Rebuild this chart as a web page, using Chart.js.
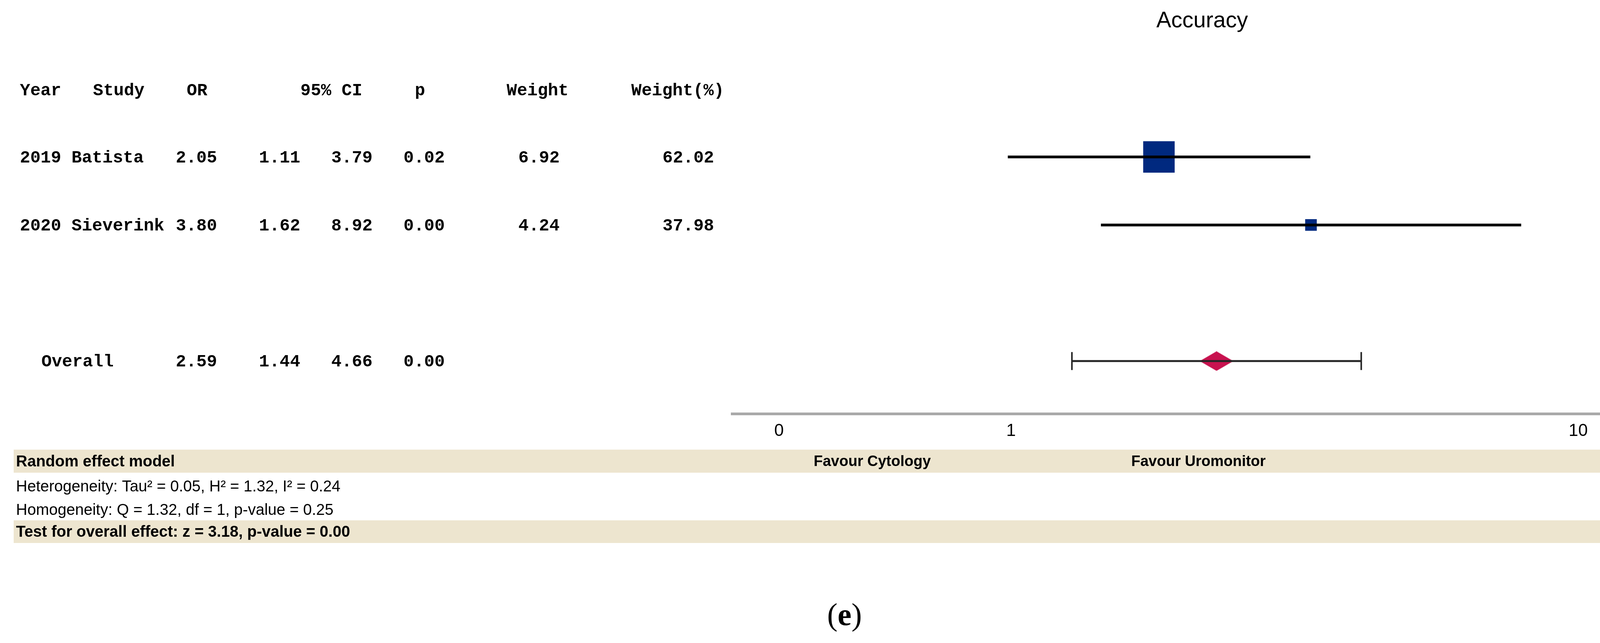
<!DOCTYPE html>
<html>
<head>
<meta charset="utf-8">
<title>Accuracy</title>
<script src="https://cdn.jsdelivr.net/npm/chart.js@4.4.1/dist/chart.umd.min.js"></script>
<style>
  html, body { margin: 0; padding: 0; background: #fff; }
  #wrap { width: 4338px; height: 1646px; }
</style>
</head>
<body>
<div id="wrap"><canvas id="forest" width="4338" height="1646"></canvas></div>
<script>
// study rows
const years = ['2019', '2020'];
const studies = ['Batista', 'Sieverink'];
const oddsRatios = [2.05, 3.80];
const ciLow = [1.11, 1.62];
const ciHigh = [3.79, 8.92];
const pValues = [0.02, 0.00];
const weights = [6.92, 4.24];
const weightPct = [62.02, 37.98];

// pooled estimate
const overallOR = 2.59;
const overallLow = 1.44;
const overallHigh = 4.66;
const overallP = 0.00;

// axis
const tickValues = [0.39, 1, 10];
const tickLabels = ['0', '1', '10'];

const headers = ['Year', 'Study', 'OR', '95% CI', 'p', 'Weight', 'Weight(%)'];
const favourLabels = ['Favour Cytology', 'Favour Uromonitor'];
const footerLines = [
    'Random effect model',
    'Heterogeneity: Tau\u00b2 = 0.05, H\u00b2 = 1.32, I\u00b2 = 0.24',
    'Homogeneity: Q = 1.32, df = 1, p-value = 0.25',
    'Test for overall effect: z = 3.18, p-value = 0.00'
];

(function () {
    const overallRow = studies.length + 1;

    // diamond for the pooled estimate (wider than tall)
    const diamond = document.createElement('canvas');
    diamond.width = 86;
    diamond.height = 50;
    const dctx = diamond.getContext('2d');
    dctx.fillStyle = '#c8124f';
    dctx.beginPath();
    dctx.moveTo(0, 25);
    dctx.lineTo(43, 0);
    dctx.lineTo(86, 25);
    dctx.lineTo(43, 50);
    dctx.closePath();
    dctx.fill();

    const ciDatasets = studies.map((s, i) => ({
        label: s + ' CI',
        data: [{x: ciLow[i], y: i}, {x: ciHigh[i], y: i}],
        showLine: true,
        borderColor: '#000',
        borderWidth: 7,
        pointRadius: 0
    }));

    const datasets = [
        ...ciDatasets,
        {
            label: 'Overall CI',
            data: [{x: overallLow, y: overallRow}, {x: overallHigh, y: overallRow}],
            showLine: true,
            borderColor: '#262626',
            borderWidth: 5,
            pointStyle: 'line',
            pointRotation: 90,
            pointRadius: 23,
            pointBorderWidth: 4,
            pointBorderColor: '#262626'
        },
        {
            label: 'OR',
            data: studies.map((s, i) => ({x: oddsRatios[i], y: i})),
            pointStyle: 'rect',
            pointRadius: [57, 21],
            backgroundColor: '#00297f',
            borderColor: '#00297f',
            borderWidth: 0
        },
        {
            label: 'Overall',
            data: [{x: overallOR, y: overallRow}],
            pointStyle: diamond,
            pointRadius: 5
        }
    ];

    // table, bands and footer
    const forestTable = {
        id: 'forestTable',
        beforeDraw(chart) {
            const {ctx} = chart;
            ctx.save();
            ctx.fillStyle = '#ede5cf';
            ctx.fillRect(35, 1151, 4272, 59);
            ctx.fillRect(35, 1332, 4272, 58);
            ctx.restore();
        },
        afterDraw(chart) {
            const {ctx, scales: {y}} = chart;
            ctx.save();
            ctx.fillStyle = '#000';
            ctx.textBaseline = 'middle';
            ctx.textAlign = 'left';
            ctx.font = 'bold 44px "Liberation Mono", monospace';

            const headX = [51, 238, 478, 769, 1062, 1297, 1616];
            const hy = y.getPixelForValue(-1) + 5;
            headers.forEach((h, i) => ctx.fillText(h, headX[i], hy));

            const colX = [450, 663, 848, 1033, 1327, 1696];
            studies.forEach((s, i) => {
                const ry = y.getPixelForValue(i) + 3;
                ctx.fillText(years[i] + ' ' + s, 51, ry);
                [oddsRatios[i], ciLow[i], ciHigh[i], pValues[i], weights[i], weightPct[i]]
                    .forEach((v, j) => ctx.fillText(v.toFixed(2), colX[j], ry));
            });

            const oy = y.getPixelForValue(overallRow) + 3;
            ctx.fillText('Overall', 106, oy);
            [overallOR, overallLow, overallHigh, overallP]
                .forEach((v, j) => ctx.fillText(v.toFixed(2), colX[j], oy));

            // footer
            const footY = [1183, 1247, 1307, 1363];
            footerLines.forEach((t, i) => {
                const bold = i === 0 || i === 3;
                ctx.font = (bold ? 'bold ' : '') + '40px "Liberation Sans", Arial, sans-serif';
                ctx.fillText(t, 41, footY[i]);
            });
            ctx.font = 'bold 38px "Liberation Sans", Arial, sans-serif';
            ctx.fillText(favourLabels[0], 2083, 1183);
            ctx.fillText(favourLabels[1], 2896, 1183);

            // panel label
            ctx.textBaseline = 'alphabetic';
            const serif = '80px "Liberation Serif", "Times New Roman", serif';
            ctx.font = serif;
            const wp = ctx.measureText('(').width;
            const wr = ctx.measureText(')').width;
            ctx.font = 'bold ' + serif;
            const we = ctx.measureText('e').width;
            let px = 2162 - (wp + we + wr) / 2;
            ctx.font = serif;
            ctx.fillText('(', px, 1600);
            px += wp;
            ctx.font = 'bold ' + serif;
            ctx.fillText('e', px, 1600);
            px += we;
            ctx.font = serif;
            ctx.fillText(')', px, 1600);
            ctx.restore();
        }
    };

    new Chart(document.getElementById('forest'), {
        type: 'scatter',
        data: {datasets},
        options: {
            responsive: false,
            devicePixelRatio: 1,
            animation: false,
            events: [],
            layout: {
                padding: {left: 1874, right: 31, top: 0, bottom: 498}
            },
            plugins: {
                legend: {display: false},
                tooltip: {enabled: false},
                title: {
                    display: true,
                    text: 'Accuracy',
                    fullSize: false,
                    color: '#000',
                    font: {family: '"Liberation Sans", Arial, sans-serif', size: 57, weight: 'normal'},
                    padding: {top: 20, bottom: 52}
                }
            },
            scales: {
                x: {
                    type: 'logarithmic',
                    min: 0.3624,
                    max: 16.47,
                    afterBuildTicks: (scale) => {
                        scale.ticks = tickValues.map(v => ({value: v}));
                    },
                    ticks: {
                        autoSkip: false,
                        maxRotation: 0,
                        padding: 18,
                        labelOffset: 74,
                        color: '#000',
                        font: {family: '"Liberation Sans", Arial, sans-serif', size: 44},
                        callback: (value, index) => tickLabels[index]
                    },
                    grid: {display: false, drawTicks: false},
                    border: {display: true, color: '#a9a9a9', width: 7}
                },
                y: {
                    type: 'linear',
                    display: false,
                    reverse: true,
                    min: -1.5,
                    max: 3.774
                }
            }
        },
        plugins: [forestTable]
    });
})();
</script>
</body>
</html>
